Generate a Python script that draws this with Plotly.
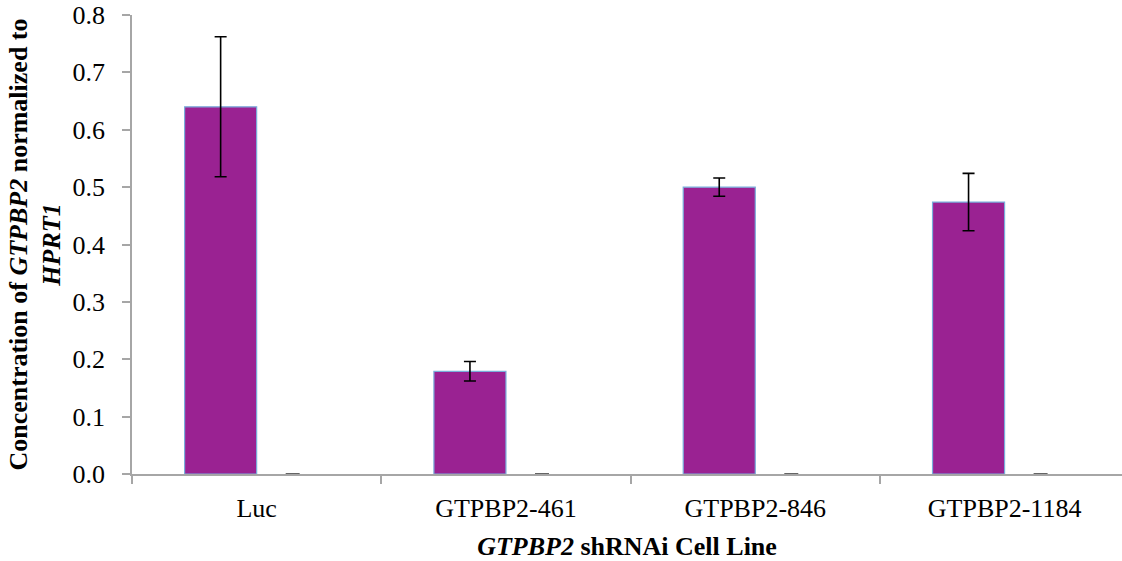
import plotly.graph_objects as go

categories = ["Luc", "GTPBP2-461", "GTPBP2-846", "GTPBP2-1184"]
values = [0.640, 0.179, 0.500, 0.474]
errors = [0.122, 0.017, 0.016, 0.050]
zero_values = [0, 0, 0, 0]
zero_errors = [0, 0, 0, 0]
y_ticks = [0.0, 0.1, 0.2, 0.3, 0.4, 0.5, 0.6, 0.7, 0.8]

FONT = "Liberation Serif, Times New Roman, serif"
PURPLE = "#9A2292"
EDGE = "#79AEDB"
AXIS = "#A6A6A6"

fig = go.Figure()
fig.add_trace(go.Bar(
    x=categories, y=values,
    marker=dict(color=PURPLE, line=dict(color=EDGE, width=1.2)),
    error_y=dict(type="data", array=errors, visible=True, color="black", thickness=1.6, width=6),
    showlegend=False,
))
fig.add_trace(go.Bar(
    x=categories, y=zero_values,
    marker=dict(color=PURPLE, line=dict(color=EDGE, width=0)),
    error_y=dict(type="data", array=zero_errors, visible=True, color="#333333", thickness=1.6, width=7),
    showlegend=False,
))

fig.update_layout(
    width=1122, height=561,
    margin=dict(l=132, r=0, t=15, b=87, autoexpand=False),
    paper_bgcolor="white", plot_bgcolor="white",
    barmode="group", bargap=0.422, bargroupgap=0,
    font=dict(family=FONT, size=26, color="black"),
)
fig.update_xaxes(
    type="category", range=[-0.5, 3.471], automargin=False,
    showline=True, linecolor=AXIS, linewidth=1.5,
    ticks="outside", tickson="boundaries", ticklen=8, tickcolor=AXIS, tickwidth=1.5,
    ticklabelstandoff=10, ticklabeloverflow="allow",
    showgrid=False, zeroline=False,
    tickfont=dict(family=FONT, size=26),
    title=dict(text="<b><i>GTPBP2</i> shRNAi Cell Line</b>", font=dict(family=FONT, size=26), standoff=16),
)
fig.update_yaxes(
    range=[0, 0.8], tickvals=y_ticks, tickformat=".1f", automargin=False,
    showline=True, linecolor=AXIS, linewidth=1.5,
    ticks="outside", ticklen=8, tickcolor=AXIS, tickwidth=1.5,
    ticklabelstandoff=12, ticklabeloverflow="allow",
    showgrid=False, zeroline=False,
    tickfont=dict(family=FONT, size=26),
    title=dict(text="<b>Concentration of <i>GTPBP2</i> normalized to<br><i>HPRT1</i></b>",
               font=dict(family=FONT, size=26), standoff=4),
)

fig.write_html("out.html", config={"displayModeBar": False},
               post_script="document.body.style.margin='0';")
